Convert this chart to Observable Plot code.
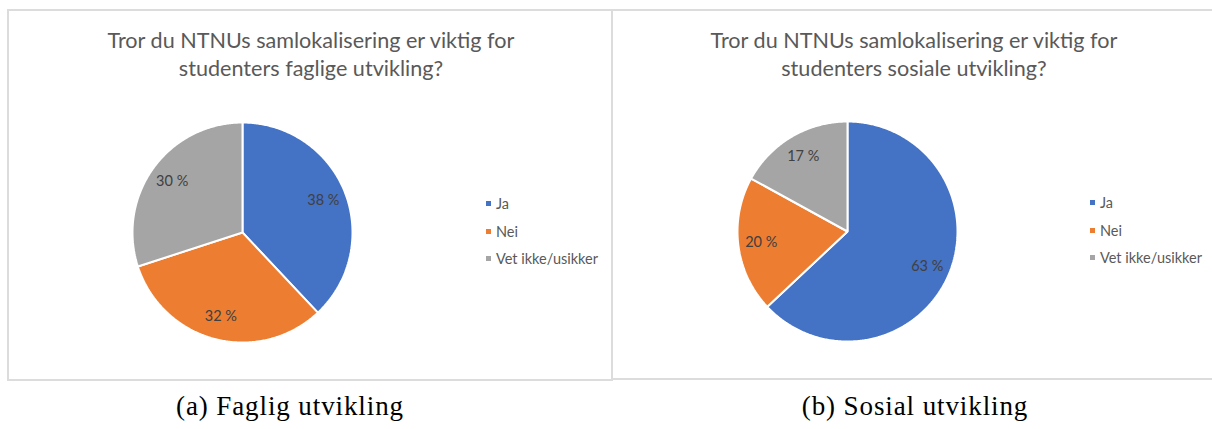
<!DOCTYPE html>
<html>
<head>
<meta charset="utf-8">
<script src="https://cdn.jsdelivr.net/npm/d3@7"></script>
<script src="https://cdn.jsdelivr.net/npm/@observablehq/plot@0.6"></script>
<style>
  html, body { margin: 0; padding: 0; background: #fff; }
  #root { position: relative; width: 1212px; height: 429px; overflow: hidden; }
  .panel { position: absolute; box-sizing: border-box; border: 2px solid #dcdcdc; background: #fff; }
  .title { position: absolute; text-align: center; font-family: Lato, "Open Sans", sans-serif; font-size: 21.6px; line-height: 28px; color: #595959; white-space: nowrap; }
  .legend { position: absolute; font-family: Lato, "Open Sans", sans-serif; font-size: 14.5px; color: #595959; }
  .legend .row { position: absolute; white-space: nowrap; height: 18px; line-height: 18px; }
  .legend .sw { position: absolute; width: 5px; height: 5px; top: 6px; left: 0; }
  .legend .lb { position: absolute; left: 10px; top: 0; }
  .caption { position: absolute; font-family: "Liberation Serif", "DejaVu Serif", serif; font-size: 27px; letter-spacing: 0.9px; color: #000; white-space: nowrap; text-align: center; }
  .plotbox { position: absolute; }
</style>
</head>
<body>
<div id="root"></div>
<script>
// ---- data ----
const categories = ["Ja", "Nei", "Vet ikke/usikker"];
const colors = ["#4472C4", "#ED7D31", "#A5A5A5"];
const faglig = [38, 32, 30];
const sosial = [63, 20, 17];
const titles = [
  ["Tror du NTNUs samlokalisering er viktig for", "studenters faglige utvikling?"],
  ["Tror du NTNUs samlokalisering er viktig for", "studenters sosiale utvikling?"]
];
const captions = ["(a) Faglig utvikling", "(b) Sosial utvikling"];

const root = document.getElementById("root");

function pieChart(values) {
  const total = d3.sum(values);
  const pie = d3.pie().sort(null).value(d => d)(values);
  const pts = [];
  const labels = [];
  pie.forEach((p, i) => {
    const cat = categories[i];
    pts.push({cat, x: 0, y: 0});
    const n = Math.max(4, Math.ceil((p.endAngle - p.startAngle) / 0.01));
    for (let k = 0; k <= n; k++) {
      const a = p.startAngle + (p.endAngle - p.startAngle) * k / n;
      pts.push({cat, x: Math.sin(a), y: Math.cos(a)});
    }
    const mid = (p.startAngle + p.endAngle) / 2;
    labels.push({x: 0.79 * Math.sin(mid), y: 0.79 * Math.cos(mid), text: Math.round(values[i] / total * 100) + " %"});
  });
  const S = 242;
  return Plot.plot({
    width: S, height: S,
    margin: 0,
    x: {domain: [-1.1, 1.1], axis: null},
    y: {domain: [-1.1, 1.1], axis: null},
    color: {domain: categories, range: colors},
    style: {background: "transparent", overflow: "visible"},
    marks: [
      Plot.line(pts, {x: "x", y: "y", z: "cat", fill: "cat", stroke: "white", strokeWidth: 2, curve: "linear-closed", strokeLinejoin: "miter"}),
      Plot.text(labels, {x: "x", y: "y", text: "text", fill: "#404040", fontSize: 14.5, fontFamily: "Lato, 'Open Sans', sans-serif"})
    ]
  });
}

function el(cls, style, html) {
  const d = document.createElement("div");
  d.className = cls;
  Object.assign(d.style, style);
  if (html != null) d.innerHTML = html;
  root.appendChild(d);
  return d;
}

// panels
el("panel", {left: "7px", top: "9px", width: "606px", height: "372px"});
el("panel", {left: "611px", top: "9px", width: "640px", height: "371px"});

const cfg = [
  {values: faglig, cx: 242, cy: 232, titleCx: 311, legendX: 486, legendY: 195, capCx: 290},
  {values: sosial, cx: 847, cy: 231, titleCx: 914, legendX: 1090, legendY: 194, capCx: 915}
];

cfg.forEach((c, i) => {
  el("title", {left: (c.titleCx - 300) + "px", width: "600px", top: "26px"}, titles[i].join("<br>"));
  const box = el("plotbox", {left: (c.cx - 121) + "px", top: (c.cy - 121) + "px"});
  box.appendChild(pieChart(c.values));
  const lg = el("legend", {left: c.legendX + "px", top: c.legendY + "px"});
  categories.forEach((cat, j) => {
    const r = document.createElement("div");
    r.className = "row";
    r.style.top = (j * 27.5) + "px";
    r.innerHTML = `<span class="sw" style="background:${colors[j]}"></span><span class="lb">${cat}</span>`;
    lg.appendChild(r);
  });
  el("caption", {left: (c.capCx - 200) + "px", width: "400px", top: "391px"}, captions[i]);
});
</script>
</body>
</html>
